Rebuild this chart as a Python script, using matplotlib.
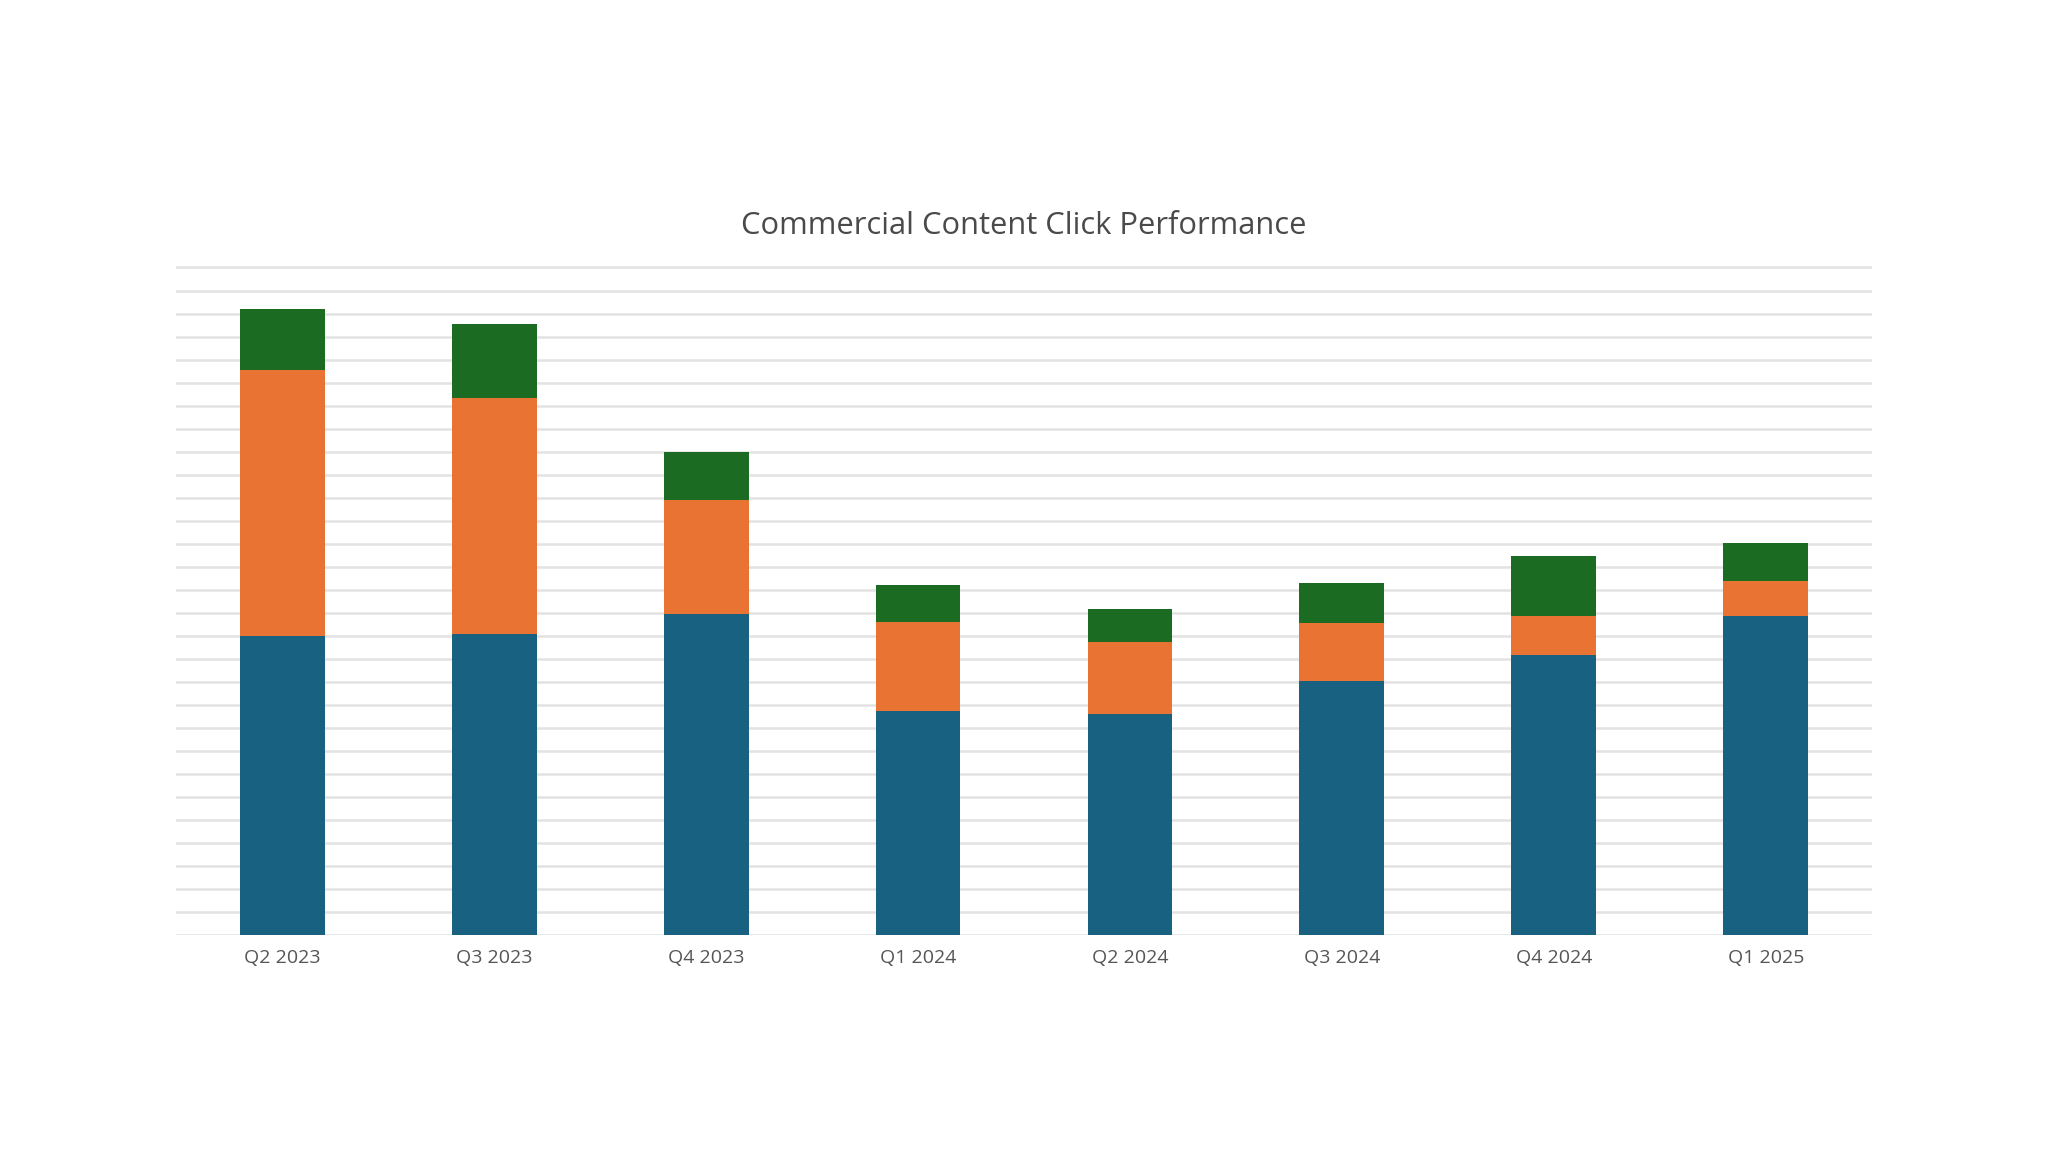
import numpy as np
import matplotlib.pyplot as plt

plt.rcParams['font.family'] = ['Open Sans', 'DejaVu Sans']

quarters = ['Q2 2023', 'Q3 2023', 'Q4 2023', 'Q1 2024', 'Q2 2024', 'Q3 2024', 'Q4 2024', 'Q1 2025']
# stacked segments (no y scale shown in the original, one unit = one gridline)
blue_vals = [13.0, 13.09, 13.95, 9.74, 9.60, 11.04, 12.15, 13.86]
orange_vals = [11.56, 10.26, 4.93, 3.85, 3.11, 2.52, 1.72, 1.53]
green_vals = [2.62, 3.18, 2.12, 1.62, 1.45, 1.73, 2.60, 1.66]

fig = plt.figure(figsize=(20.48, 11.52), dpi=100)
ax = fig.add_axes([0.0861, 0.1883, 0.8278, 0.5805])

x = np.arange(len(quarters))
w = 0.4
bottom2 = np.array(blue_vals) + np.array(orange_vals)
ax.bar(x, blue_vals, w, color='#186181', zorder=3)
ax.bar(x, orange_vals, w, bottom=blue_vals, color='#e87332', zorder=3)
ax.bar(x, green_vals, w, bottom=bottom2, color='#1b6b23', zorder=3)

ax.set_xlim(-0.5, len(quarters) - 0.5)
ax.set_ylim(0, 29.05)
ax.set_yticks(np.arange(0, 30, 1))
ax.yaxis.grid(True, color='#e2e2e2', linewidth=1.8, zorder=0)
ax.tick_params(axis='y', left=False, labelleft=False)
ax.tick_params(axis='x', length=0, pad=10, labelsize=14, labelcolor='#555555')
ax.set_xticks(x)
ax.set_xticklabels(quarters)
for s in ax.spines.values():
    s.set_visible(False)

fig.text(0.5, 0.8036, 'Commercial Content Click Performance', ha='center', va='center',
         fontsize=22.2, color='#4a4a4a')

fig.savefig('out.png', dpi=100, facecolor='white')
